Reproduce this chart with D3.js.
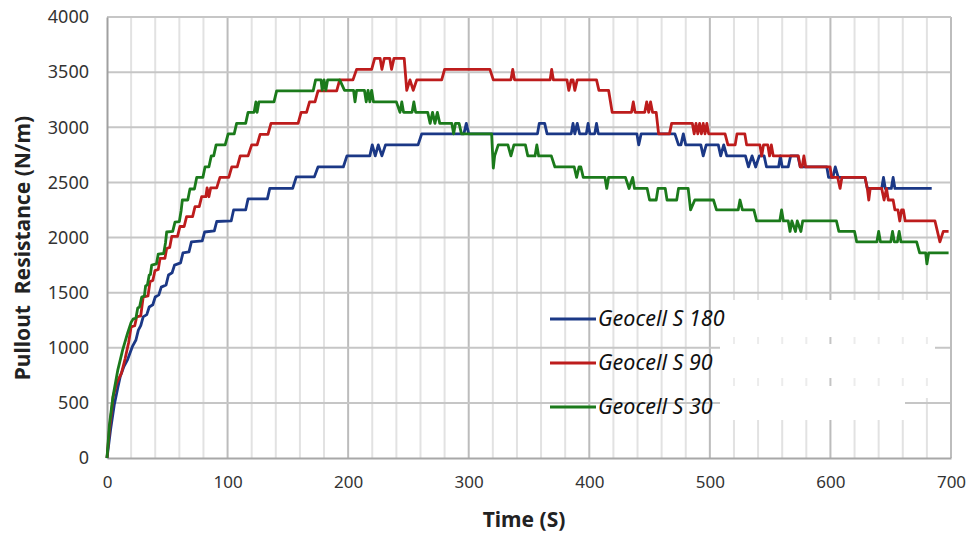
<!DOCTYPE html>
<html><head><meta charset="utf-8">
<script src="https://cdn.jsdelivr.net/npm/d3@7"></script>
<style>html,body{margin:0;padding:0;background:#fff;}svg{display:block;}</style>
</head><body>
<svg id="chart" width="971" height="533"></svg>
<script>
// ---- data (time in s, pullout resistance in N/m) ----
const seriesNames = ["Geocell S 180", "Geocell S 90", "Geocell S 30"];
const seriesColors = ["#1b3886", "#bd1c1c", "#1b7a1b"];
const xTicks = [0,100,200,300,400,500,600,700];
const yTicks = [0,500,1000,1500,2000,2500,3000,3500,4000];

const s180 = [[0,0],[3,260],[6,480],[9,640],[11,740],[14,830],[17,890],[19,950],[21,1010],[24,1070],[26,1160],[28,1200],[30,1280],[33,1300],[35,1370],[38,1390],[40,1460],[43,1480],[45,1550],[49,1570],[51,1660],[54,1680],[56,1750],[61,1770],[63,1860],[68,1870],[70,1960],[79,1970],[81,2050],[89,2060],[91,2145],[103,2150],[105,2250],[115,2250],[117,2350],[133,2350],[135,2445],[154,2445],[157,2550],[172,2550],[175,2640],[196,2640],[199,2740],[218,2740],[220,2840],[222.5,2740],[225,2840],[228,2740],[231,2840],[258,2840],[261,2940],[296,2940],[298,3035],[300,2940],[357,2940],[358.5,3035],[363,3035],[365,2940],[385,2940],[386.5,3035],[388,2940],[390,3035],[392,2940],[397.5,2940],[399,3035],[400.5,2940],[404.5,2940],[406,3035],[407.5,2940],[439.5,2940],[441,2840],[443,2940],[471,2940],[474,2840],[476,2840],[478,2940],[480,2840],[492.5,2840],[494.5,2740],[497,2840],[507,2840],[509,2740],[511.5,2840],[514,2740],[529.5,2740],[532,2640],[535,2740],[538,2640],[541,2740],[545,2740],[547,2640],[557,2640],[558.5,2740],[560,2640],[565,2640],[567,2740],[573,2740],[575,2640],[597,2640],[598.5,2545],[602,2545],[604,2640],[606.5,2545],[628.7,2545],[630.6,2445],[642.5,2445],[644,2545],[645.5,2445],[650.5,2445],[652,2545],[653.5,2445],[684,2445]];

const s90 = [[0,0],[2,250],[5,550],[8,680],[12,770],[15,900],[18,1050],[20,1190],[23,1200],[24.6,1280],[28,1290],[30,1460],[34,1470],[35.7,1600],[38,1610],[39.8,1700],[42.5,1710],[44,1810],[48,1810],[49.5,1900],[52,1910],[53.7,2010],[58.5,2010],[60.5,2100],[64,2100],[66,2190],[71,2190],[73,2280],[76.5,2280],[78.5,2370],[82,2370],[83,2450],[84.5,2370],[86,2450],[91,2450],[93.7,2545],[101,2545],[103.5,2640],[108,2640],[110.5,2740],[117,2740],[120,2840],[124.5,2840],[127,2935],[133.5,2935],[136,3035],[158.5,3035],[161,3135],[165.5,3135],[168,3230],[172.5,3230],[175,3330],[190.5,3330],[193,3430],[204,3430],[207,3525],[219.5,3525],[222,3625],[226.5,3625],[228,3525],[230,3625],[234.5,3625],[236,3525],[238,3625],[246.5,3625],[248.6,3335],[251.3,3430],[254,3335],[256.9,3430],[277.6,3430],[280,3525],[317.6,3525],[320.4,3430],[335,3430],[336.5,3525],[338,3430],[367.5,3430],[368.8,3525],[370.2,3430],[381.5,3430],[383,3335],[385,3430],[386.5,3430],[388,3335],[390,3430],[406,3430],[408,3335],[416,3335],[419,3135],[435,3135],[436.5,3230],[438,3135],[446,3135],[447.6,3230],[449.3,3135],[450.8,3230],[452.5,3135],[455.5,3135],[457.5,2940],[466.5,2940],[468.3,3035],[485.5,3035],[487,2940],[488.5,3035],[490,2940],[491.5,3035],[493,2940],[494.5,3035],[496,2940],[497.5,3035],[499,2940],[512.6,2940],[515,2840],[521,2840],[522.5,2940],[529,2940],[530.5,2840],[541.5,2840],[543,2740],[544.5,2840],[548,2840],[549.5,2740],[551,2840],[552.6,2740],[573.4,2740],[575,2640],[576.5,2640],[578,2740],[579.5,2640],[599.7,2640],[601,2545],[606,2545],[608,2445],[609.5,2545],[628.7,2545],[630.6,2445],[631.8,2340],[633,2445],[642.5,2445],[644.5,2340],[646.5,2445],[648,2340],[652,2340],[653.5,2250],[656,2250],[657.5,2150],[659,2250],[660.5,2250],[662,2150],[686.7,2150],[690.8,1960],[693.6,2055],[698,2055]];

const s30 = [[0,0],[2,300],[5,560],[9,800],[13,980],[17,1130],[20,1230],[21.6,1260],[24,1270],[25.5,1360],[27,1370],[28.8,1460],[31,1470],[32,1560],[33.5,1570],[35,1660],[36,1665],[37.1,1750],[41,1760],[42.5,1850],[47,1855],[48.5,1950],[49.5,2050],[54.5,2055],[56.4,2140],[60,2145],[61.5,2245],[62.5,2340],[67,2340],[68.8,2440],[72.5,2440],[74.4,2545],[79.5,2545],[81.3,2640],[84.5,2640],[86.5,2740],[88.5,2740],[90.5,2840],[98,2840],[100.5,2940],[105.5,2940],[107.5,3035],[115,3035],[117,3135],[122,3135],[123.5,3230],[124.5,3135],[126,3230],[138.5,3230],[140.7,3330],[171,3330],[173,3430],[177.5,3430],[178.5,3335],[180,3430],[181.5,3335],[183,3430],[193,3430],[197,3335],[204.5,3335],[205.7,3230],[207,3335],[213.5,3335],[215,3230],[216.5,3335],[218,3230],[219.5,3335],[221,3230],[240,3230],[243,3135],[244.5,3230],[246,3135],[253,3135],[254.5,3230],[256,3135],[266,3135],[268,3035],[270,3135],[272,3035],[274,3135],[276,3035],[286,3035],[287.5,2940],[289,3035],[292,3035],[294,2940],[319,2940],[320.4,2630],[321.5,2740],[324.5,2840],[332.5,2840],[335,2740],[337.5,2840],[347,2840],[349,2740],[355,2740],[356.5,2840],[358,2740],[368.5,2740],[371.5,2640],[387.5,2640],[389.5,2545],[391.5,2640],[393,2640],[395,2545],[413,2545],[414.5,2445],[416,2545],[430,2545],[433,2445],[436,2545],[437.5,2445],[448,2445],[450,2340],[455.5,2340],[457,2445],[463,2445],[464.5,2340],[472.5,2340],[474,2445],[482,2445],[484,2250],[487.5,2340],[503,2340],[505.5,2250],[523.5,2250],[525,2340],[527,2250],[536.5,2250],[538.8,2150],[558,2150],[559.5,2250],[561,2150],[565,2150],[566.5,2055],[568,2150],[571,2055],[572.5,2150],[575.5,2055],[577,2150],[605,2150],[607,2055],[620,2055],[621.8,1960],[638.5,1960],[640,2055],[641.5,1960],[650,1960],[651.5,2055],[653,1960],[655.5,1960],[657,2055],[658.5,1960],[671.5,1960],[674,1860],[679,1860],[680,1760],[681.5,1860],[698,1860]];

const allSeries = [s180, s90, s30];

// ---- drawing ----
const svg = d3.select("#chart");
const L = 107, R = 951, T = 17, B = 458;
const x = d3.scaleLinear().domain([0,700]).range([L,R]);
const y = d3.scaleLinear().domain([0,4000]).range([B,T]);

const grid = svg.append("g");
grid.selectAll("line.minor").data(d3.range(20,700,20).filter(v => v % 100 !== 0))
  .join("line").attr("x1", d => x(d)).attr("x2", d => x(d)).attr("y1", T).attr("y2", B)
  .attr("stroke", "#e2e2e2").attr("stroke-width", 2);
grid.selectAll("line.major").data(xTicks.slice(1))
  .join("line").attr("x1", d => x(d)).attr("x2", d => x(d)).attr("y1", T).attr("y2", B)
  .attr("stroke", "#bcbcbc").attr("stroke-width", 2);
grid.selectAll("line.h").data(yTicks.slice(1))
  .join("line").attr("x1", L).attr("x2", R).attr("y1", d => y(d)).attr("y2", d => y(d))
  .attr("stroke", "#c6c6c6").attr("stroke-width", 2);

// white patch next to legend (as in reference)
svg.append("rect").attr("x", 720).attr("y", 300).attr("width", 215).attr("height", 98).attr("fill", "#fff");
svg.append("rect").attr("x", 720).attr("y", 396).attr("width", 185).attr("height", 24).attr("fill", "#fff");
const fragX = d3.range(20,700,20).filter(v => x(v) > 722 && x(v) < 933);
[[337,344],[378,386]].forEach(([a,b]) => {
  svg.append("g").selectAll("line").data(fragX).join("line")
    .attr("x1", d => x(d)).attr("x2", d => x(d)).attr("y1", a).attr("y2", b)
    .attr("stroke", d => d % 100 === 0 ? "#c4c4c4" : "#ececec").attr("stroke-width", 2);
});

// plot border
svg.append("line").attr("x1", R).attr("x2", R).attr("y1", T).attr("y2", B).attr("stroke", "#bdbdbd").attr("stroke-width", 2);
svg.append("line").attr("x1", L).attr("x2", R).attr("y1", T).attr("y2", T).attr("stroke", "#c6c6c6").attr("stroke-width", 2);

// axes
const yAxis = svg.append("g").attr("transform", `translate(${L},0)`)
  .call(d3.axisLeft(y).tickValues(yTicks).tickSize(0).tickPadding(18).tickFormat(d3.format("d")));
yAxis.select(".domain").attr("stroke", "#a0a0a0").attr("stroke-width", 2);
yAxis.selectAll("text").attr("font-family", "'Noto Sans', sans-serif").attr("font-size", 18).attr("fill", "#333");

const xAxis = svg.append("g").attr("transform", `translate(0,${B})`)
  .call(d3.axisBottom(x).tickValues(xTicks).tickSize(0).tickPadding(18).tickFormat(d3.format("d")));
xAxis.select(".domain").attr("stroke", "#a8a8a8").attr("stroke-width", 2);
xAxis.selectAll("text").attr("font-family", "'Noto Sans', sans-serif").attr("font-size", 17).attr("fill", "#333");

// data lines
const line = d3.line().x(d => x(d[0])).y(d => y(d[1]));
svg.append("g").selectAll("path").data(allSeries).join("path")
  .attr("d", line).attr("fill", "none")
  .attr("stroke", (d,i) => seriesColors[i]).attr("stroke-width", 2.8)
  .attr("stroke-linejoin", "round");

// axis titles
svg.append("text").attr("transform", "translate(30,248) rotate(-90)")
  .attr("text-anchor", "middle").attr("font-family", "'Noto Sans', sans-serif")
  .attr("font-weight", "bold").attr("font-size", 21).attr("fill", "#222")
  .attr("xml:space", "preserve").style("white-space", "pre")
  .text("Pullout  Resistance (N/m)");
svg.append("text").attr("x", 524).attr("y", 527)
  .attr("text-anchor", "middle").attr("font-family", "'Noto Sans', sans-serif")
  .attr("font-weight", "bold").attr("font-size", 21).attr("fill", "#222")
  .text("Time (S)");

// legend
const legY = [319, 363, 407];
const leg = svg.append("g");
seriesNames.forEach((n, i) => {
  leg.append("line").attr("x1", 550).attr("x2", 596).attr("y1", legY[i]).attr("y2", legY[i])
    .attr("stroke", seriesColors[i]).attr("stroke-width", 2.8);
  leg.append("text").attr("x", 598).attr("y", legY[i] + 7)
    .attr("font-family", "'Noto Sans', sans-serif").attr("font-style", "italic")
    .attr("font-size", 21.5).attr("fill", "#111").text(n);
});
</script>
</body></html>
